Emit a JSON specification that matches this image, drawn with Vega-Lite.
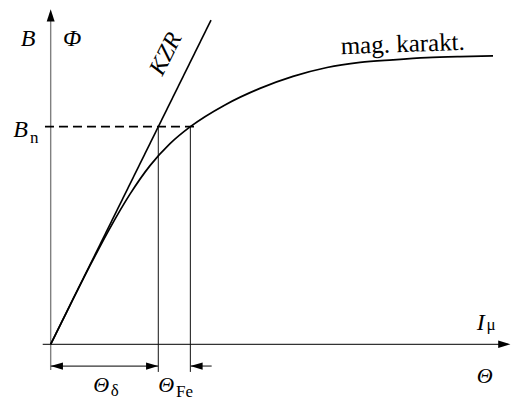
{
  "$schema": "https://vega.github.io/schema/vega-lite/v6.json",
  "width": 511,
  "height": 400,
  "padding": 0,
  "autosize": {"type": "none"},
  "background": "white",
  "config": {"view": {"stroke": null}},
  "datasets": {
    "curve": [
      {"x": 0, "y": 0},
      {"x": 0.179, "y": 0.179},
      {"x": 0.365, "y": 0.361},
      {"x": 0.551, "y": 0.534},
      {"x": 0.737, "y": 0.69},
      {"x": 0.923, "y": 0.821},
      {"x": 1.109, "y": 0.922},
      {"x": 1.298, "y": 1.0},
      {"x": 1.62, "y": 1.1},
      {"x": 1.945, "y": 1.176},
      {"x": 2.252, "y": 1.231},
      {"x": 2.568, "y": 1.272},
      {"x": 2.875, "y": 1.295},
      {"x": 3.181, "y": 1.307},
      {"x": 3.497, "y": 1.317},
      {"x": 3.804, "y": 1.322},
      {"x": 4.111, "y": 1.325}
    ],
    "segments": [
      {"kind": "yaxis", "x": 0, "y": -0.118, "x2": 0, "y2": 1.5},
      {"kind": "xaxis", "x": -0.074, "y": 0, "x2": 4.25, "y2": 0},
      {"kind": "kzr", "x": 0, "y": 0, "x2": 1.49, "y2": 1.49},
      {"kind": "bn", "x": -0.053, "y": 1, "x2": 1.378, "y2": 1},
      {"kind": "thin", "x": 1.0, "y": 1, "x2": 1.0, "y2": -0.127},
      {"kind": "thin", "x": 1.298, "y": 1, "x2": 1.298, "y2": -0.127},
      {"kind": "dim", "x": 0, "y": -0.1, "x2": 1.0, "y2": -0.1},
      {"kind": "dim", "x": 1.298, "y": -0.1, "x2": 1.496, "y2": -0.1}
    ],
    "arrows": [
      {"dir": "up", "x": 0, "y": 1.54},
      {"dir": "right", "x": 4.273, "y": 0},
      {"dir": "left", "x": 0, "y": -0.1},
      {"dir": "right", "x": 1.0, "y": -0.1},
      {"dir": "left", "x": 1.298, "y": -0.1}
    ],
    "labels": [
      {"role": "main", "text": "B", "x": -0.279, "y": 1.371},
      {"role": "main", "text": "Φ", "x": 0.114, "y": 1.371},
      {"role": "main", "text": "B", "x": -0.348, "y": 0.954},
      {"role": "sub", "text": "n", "x": -0.192, "y": 0.925},
      {"role": "main", "text": "I", "x": 3.959, "y": 0.066},
      {"role": "sub", "text": "μ", "x": 4.05, "y": 0.066},
      {"role": "theta", "text": "Θ", "x": 3.959, "y": -0.178},
      {"role": "theta", "text": "Θ", "x": 0.396, "y": -0.218},
      {"role": "sub", "text": "δ", "x": 0.558, "y": -0.236},
      {"role": "theta", "text": "Θ", "x": 1.0, "y": -0.218},
      {"role": "sub", "text": "Fe", "x": 1.165, "y": -0.24},
      {"role": "kzr", "text": "KZR", "x": 1.072, "y": 1.334},
      {"role": "mag", "text": "mag. karakt.", "x": 3.274, "y": 1.343}
    ]
  },
  "encoding": {
    "x": {"field": "x", "type": "quantitative", "scale": {"domain": [-0.471, 4.278], "nice": false, "zero": false}, "axis": null},
    "y": {"field": "y", "type": "quantitative", "scale": {"domain": [-0.256, 1.582], "nice": false, "zero": false}, "axis": null}
  },
  "layer": [
    {
      "data": {"name": "segments"},
      "transform": [{"filter": "datum.kind === 'yaxis'"}],
      "mark": {"type": "rule", "color": "#808080", "strokeWidth": 1.4},
      "encoding": {"x2": {"field": "x2"}, "y2": {"field": "y2"}}
    },
    {
      "data": {"name": "segments"},
      "transform": [{"filter": "datum.kind === 'xaxis'"}],
      "mark": {"type": "rule", "color": "#333333", "strokeWidth": 1.3},
      "encoding": {"x2": {"field": "x2"}, "y2": {"field": "y2"}}
    },
    {
      "data": {"name": "segments"},
      "transform": [{"filter": "datum.kind === 'kzr'"}],
      "mark": {"type": "rule", "color": "#000000", "strokeWidth": 1.6},
      "encoding": {"x2": {"field": "x2"}, "y2": {"field": "y2"}}
    },
    {
      "data": {"name": "segments"},
      "transform": [{"filter": "datum.kind === 'bn'"}],
      "mark": {"type": "rule", "color": "#000000", "strokeWidth": 1.6, "strokeDash": [9, 5]},
      "encoding": {"x2": {"field": "x2"}, "y2": {"field": "y2"}}
    },
    {
      "data": {"name": "segments"},
      "transform": [{"filter": "datum.kind === 'thin'"}],
      "mark": {"type": "rule", "color": "#111111", "strokeWidth": 1},
      "encoding": {"x2": {"field": "x2"}, "y2": {"field": "y2"}}
    },
    {
      "data": {"name": "segments"},
      "transform": [{"filter": "datum.kind === 'dim'"}],
      "mark": {"type": "rule", "color": "#333333", "strokeWidth": 1.2},
      "encoding": {"x2": {"field": "x2"}, "y2": {"field": "y2"}}
    },
    {
      "data": {"name": "curve"},
      "mark": {"type": "line", "color": "#000000", "strokeWidth": 1.7, "interpolate": "monotone"},
      "encoding": {}
    },
    {
      "data": {"name": "arrows"},
      "transform": [{"filter": "datum.dir === 'right'"}],
      "mark": {"type": "point", "shape": "M0,0L-2,-0.6L-2,0.6Z", "size": 150, "filled": true, "color": "#000000", "opacity": 1, "strokeWidth": 0}
    },
    {
      "data": {"name": "arrows"},
      "transform": [{"filter": "datum.dir === 'left'"}],
      "mark": {"type": "point", "shape": "M0,0L-2,-0.6L-2,0.6Z", "size": 150, "angle": 180, "filled": true, "color": "#000000", "opacity": 1, "strokeWidth": 0}
    },
    {
      "data": {"name": "arrows"},
      "transform": [{"filter": "datum.dir === 'up'"}],
      "mark": {"type": "point", "shape": "M0,0L-2,-0.65L-2,0.65Z", "size": 150, "angle": -90, "filled": true, "color": "#000000", "opacity": 1, "strokeWidth": 0}
    },
    {
      "data": {"name": "labels"},
      "transform": [{"filter": "datum.role === 'main'"}],
      "mark": {"type": "text", "font": "Liberation Serif", "fontStyle": "italic", "fontSize": 24, "align": "left", "baseline": "alphabetic", "color": "#000000"},
      "encoding": {"text": {"field": "text"}}
    },
    {
      "data": {"name": "labels"},
      "transform": [{"filter": "datum.role === 'theta'"}],
      "mark": {"type": "text", "font": "Liberation Serif", "fontStyle": "italic", "fontSize": 22, "align": "left", "baseline": "alphabetic", "color": "#000000"},
      "encoding": {"text": {"field": "text"}}
    },
    {
      "data": {"name": "labels"},
      "transform": [{"filter": "datum.role === 'sub'"}],
      "mark": {"type": "text", "font": "Liberation Serif", "fontSize": 17, "align": "left", "baseline": "alphabetic", "color": "#000000"},
      "encoding": {"text": {"field": "text"}}
    },
    {
      "data": {"name": "labels"},
      "transform": [{"filter": "datum.role === 'kzr'"}],
      "mark": {"type": "text", "font": "Liberation Serif", "fontStyle": "italic", "fontSize": 24, "align": "center", "baseline": "middle", "angle": -63, "color": "#000000"},
      "encoding": {"text": {"field": "text"}}
    },
    {
      "data": {"name": "labels"},
      "transform": [{"filter": "datum.role === 'mag'"}],
      "mark": {"type": "text", "font": "Liberation Serif", "fontSize": 25, "align": "center", "baseline": "alphabetic", "angle": -2, "color": "#000000"},
      "encoding": {"text": {"field": "text"}}
    }
  ]
}
